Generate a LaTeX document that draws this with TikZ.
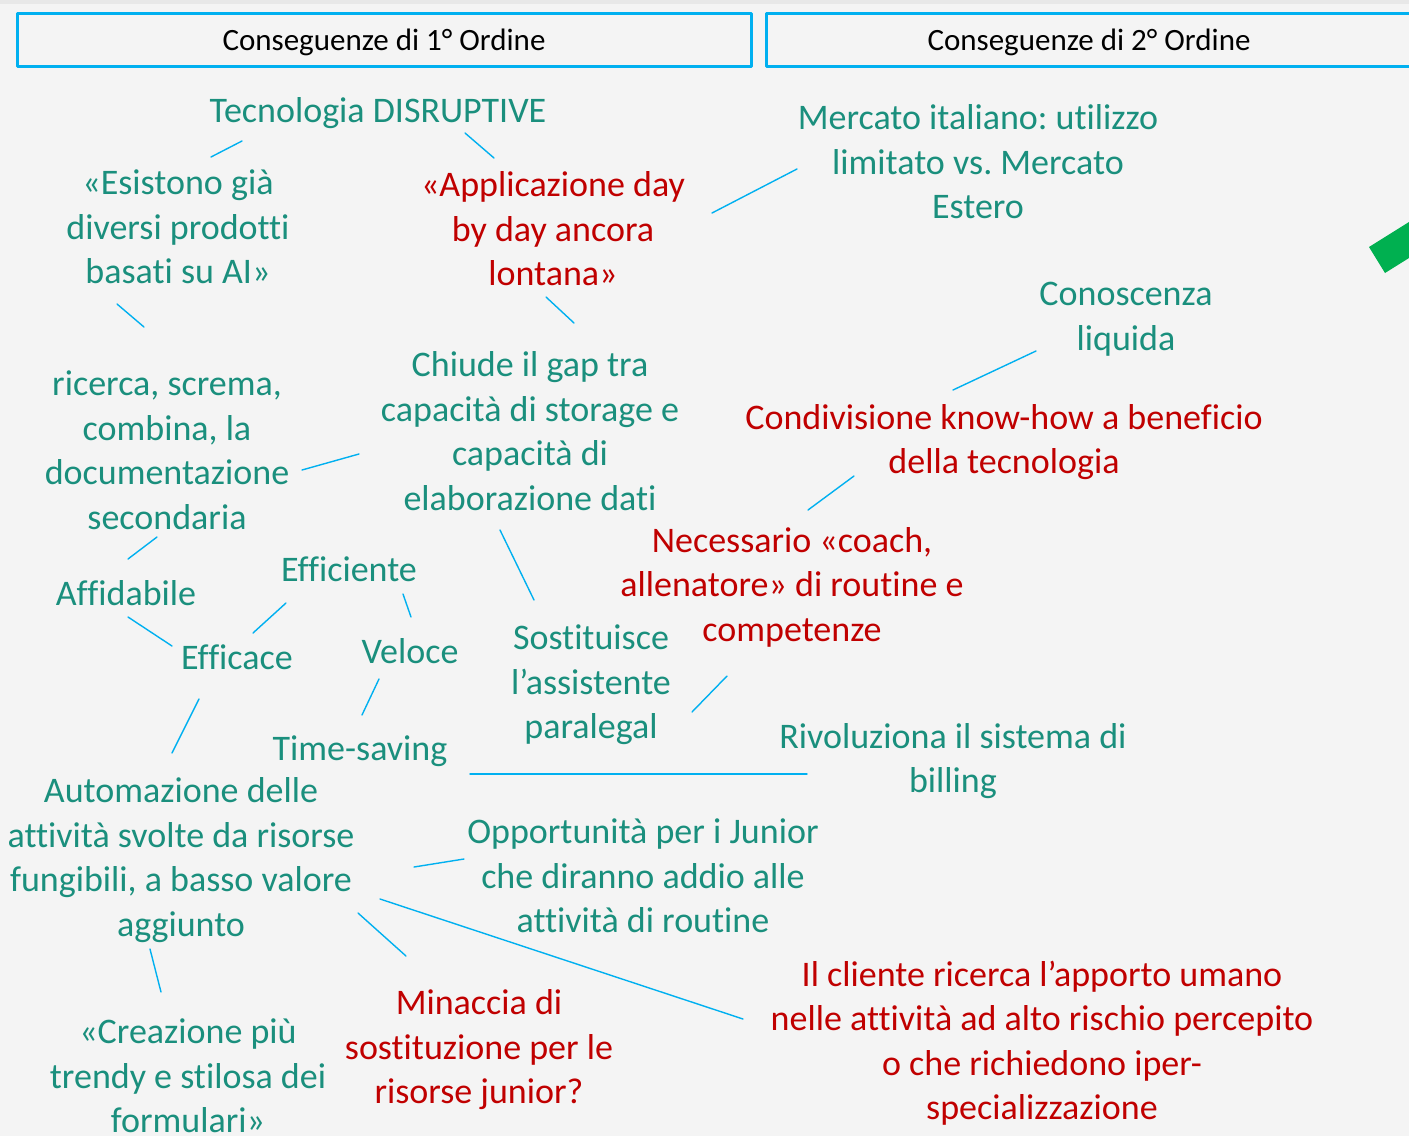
\documentclass[tikz,border=0pt]{standalone}
\usepackage{fontspec}
\setmainfont[Ligatures=NoCommon]{Carlito}
\frenchspacing
\definecolor{tealtxt}{RGB}{26,143,125}
\definecolor{redtxt}{RGB}{192,0,0}
\definecolor{linkc}{RGB}{0,176,240}
\definecolor{grn}{RGB}{0,176,80}
\definecolor{bgc}{RGB}{244,244,244}
\tikzset{
	txt/.style={align=center, inner sep=0pt, font=\fontsize{36}{44.5}\selectfont},
	tg/.style={txt, text=tealtxt},
	rd/.style={txt, text=redtxt},
	hdr/.style={draw=linkc, line width=3pt, inner sep=0pt, minimum height=53pt, text height=24pt, text depth=3pt, font=\fontsize{31}{36}\selectfont},
	link/.style={draw=linkc, line width=1.4pt}
}
\begin{document}
\begin{tikzpicture}[x=1pt, y=-1pt, line join=round, line cap=round]
	\useasboundingbox (0,0) rectangle (1409,1136);
	\clip (0,0) rectangle (1409,1136);
	\fill[bgc] (0,0) rectangle (1409,1136);
	\fill[black!9] (0,0) rectangle (1409,4);
	\fill[grn] (1369,247) -- (1409,222) -- (1409,258) -- (1385,273) -- cycle;
	%intestazioni
	\node[hdr, minimum width=734pt] (h1) at (384,39.5) {Conseguenze di 1° Ordine};
	\node[hdr, minimum width=646pt] (h2) at (1089,39.5) {Conseguenze di 2° Ordine};
	%conseguenze
	\node[tg] (tech) at (378,113) {Tecnologia DISRUPTIVE};
	\node[tg] (esist) at (178,227) {«Esistono già\\diversi prodotti\\basati su AI»};
	\node[rd] (appl) at (553,229) {«Applicazione day\\by day ancora\\lontana»};
	\node[tg] (merc) at (978,162) {Mercato italiano: utilizzo\\limitato vs. Mercato\\Estero};
	\node[tg] (conosc) at (1126,319) {Conoscenza\\liquida};
	\node[rd] (condiv) at (1004,442) {Condivisione know-how a beneficio\\della tecnologia};
	\node[tg] (gap) at (530,431) {Chiude il gap tra\\capacità di storage e\\capacità di\\elaborazione dati};
	\node[tg] (ricerca) at (167,450) {ricerca, screma,\\combina, la\\documentazione\\secondaria};
	\node[rd] (coach) at (792,587) {Necessario «coach,\\allenatore» di routine e\\competenze};
	\node[tg] (affid) at (126,593) {Affidabile};
	\node[tg] (effic) at (349,569) {Efficiente};
	\node[tg] (efficace) at (237,657) {Efficace};
	\node[tg] (veloce) at (410,651) {Veloce};
	\node[tg] (sostit) at (591,685) {Sostituisce\\l’assistente\\paralegal};
	\node[tg] (timesav) at (360,751) {Time-saving};
	\node[tg] (billing) at (953,761) {Rivoluziona il sistema di\\billing};
	\node[tg] (autom) at (181,860) {Automazione delle\\attività svolte da risorse\\fungibili, a basso valore\\aggiunto};
	\node[tg] (junior) at (643,876) {Opportunità per i Junior\\che diranno addio alle\\attività di routine};
	\node[rd] (cliente) at (1042,1043) {Il cliente ricerca l’apporto umano\\nelle attività ad alto rischio percepito\\o che richiedono iper-\\specializzazione};
	\node[rd] (minaccia) at (479,1050) {Minaccia di\\sostituzione per le\\risorse junior?};
	\node[tg] (formul) at (188,1076) {«Creazione più\\trendy e stilosa dei\\formulari»};
	%collegamenti
	\foreach \a/\da/\b/\db in {
		tech/{-136,28}/esist/{33,-70}, tech/{87,20}/appl/{-59,-71},
		esist/{-61,77}/ricerca/{-23,-123}, appl/{-7,68}/gap/{44,-108},
		appl/{159,-16}/merc/{-181,7}, conosc/{-90,32}/condiv/{-51,-52},
		ricerca/{135,20}/gap/{-171,23}, condiv/{-150,34}/coach/{16,-77},
		ricerca/{-10,87}/affid/{2,-34}, gap/{-30,99}/sostit/{-57,-85},
		affid/{2,24}/efficace/{-65,-11}, efficace/{16,-24}/effic/{-63,34},
		effic/{54,25}/veloce/{1,-34}, veloce/{-31,28}/timesav/{2,-36},
		efficace/{-38,42}/autom/{-9,-107}, coach/{-65,89}/sostit/{101,27},
		timesav/{110,23}/billing/{-146,13}, autom/{233,7}/junior/{-179,-17},
		autom/{177,53}/minaccia/{-73,-94}, autom/{199,39}/cliente/{-299,-24},
		autom/{-31,89}/formul/{-27,-84}}
	\draw[link] ([shift={(\da)}]\a.center) -- ([shift={(\db)}]\b.center);
\end{tikzpicture}
\end{document}
